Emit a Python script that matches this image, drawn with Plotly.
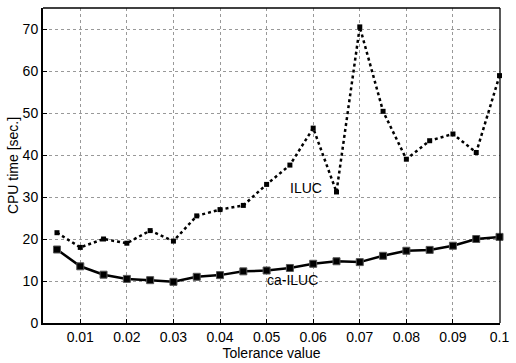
import plotly.graph_objects as go

tolerance = [0.005, 0.01, 0.015, 0.02, 0.025, 0.03, 0.035, 0.04, 0.045, 0.05,
             0.055, 0.06, 0.065, 0.07, 0.075, 0.08, 0.085, 0.09, 0.095, 0.1]
iluc = [21.5, 18.0, 20.0, 19.0, 22.0, 19.5, 25.5, 27.0, 28.0, 33.0,
        37.6, 46.4, 31.2, 70.5, 50.4, 39.0, 43.4, 45.0, 40.6, 58.9]
ca_iluc = [17.5, 13.5, 11.5, 10.5, 10.2, 9.8, 11.0, 11.4, 12.3, 12.5,
           13.1, 14.1, 14.7, 14.5, 16.0, 17.2, 17.4, 18.4, 20.0, 20.5]
x_ticks = [0.01, 0.02, 0.03, 0.04, 0.05, 0.06, 0.07, 0.08, 0.09, 0.1]
x_tick_labels = ["0.01", "0.02", "0.03", "0.04", "0.05", "0.06", "0.07", "0.08", "0.09", "0.1"]
y_ticks = [0, 10, 20, 30, 40, 50, 60, 70]

FONT = "Liberation Sans, Arial, Helvetica, sans-serif"

fig = go.Figure()
fig.add_trace(go.Scatter(
    x=tolerance, y=iluc, mode="lines+markers", name="ILUC",
    line=dict(color="black", width=2.5, dash="dot"),
    marker=dict(symbol="square", size=5, color="black"),
    showlegend=False, cliponaxis=False,
))
fig.add_trace(go.Scatter(
    x=tolerance, y=ca_iluc, mode="lines+markers", name="ca-ILUC",
    line=dict(color="black", width=2.5),
    marker=dict(symbol="square", size=7, color="black",
                line=dict(color="#555555", width=1)),
    showlegend=False, cliponaxis=False,
))

fig.add_annotation(x=0.0585, y=32.2, text="ILUC", showarrow=False,
                   font=dict(family=FONT, size=14, color="black"))
fig.add_annotation(x=0.0555, y=10.2, text="ca-ILUC", showarrow=False,
                   font=dict(family=FONT, size=14, color="black"))

# box top/right thinner lines
fig.add_shape(type="line", xref="paper", yref="paper", x0=0, x1=1, y0=1, y1=1,
              line=dict(color="black", width=1.3))
fig.add_shape(type="line", xref="paper", yref="paper", x0=1, x1=1, y0=0, y1=1,
              line=dict(color="black", width=1.3))

fig.update_layout(
    width=516, height=363,
    margin=dict(l=43, r=7, t=8, b=32),
    paper_bgcolor="white", plot_bgcolor="white",
    font=dict(family=FONT, size=14, color="black"),
)
fig.update_xaxes(
    range=[0.002, 0.1001], tickvals=x_ticks, ticktext=x_tick_labels,
    showgrid=True, gridcolor="#999999", griddash="dot", gridwidth=1,
    showline=True, linecolor="black", linewidth=2,
    ticks="inside", ticklen=4, tickcolor="black",
    zeroline=False, ticklabeloverflow="allow",
    title=dict(text="Tolerance value", standoff=1, font=dict(size=14)),
    tickfont=dict(size=14),
)
fig.update_yaxes(
    range=[0, 75], tickvals=y_ticks,
    showgrid=True, gridcolor="#999999", griddash="dot", gridwidth=1,
    showline=True, linecolor="black", linewidth=2,
    ticks="inside", ticklen=4, tickcolor="black",
    zeroline=False,
    title=dict(text="CPU time [sec.]", standoff=1, font=dict(size=14)),
    tickfont=dict(size=14),
)

fig.write_html("out.html", config={"displayModeBar": False},
               post_script="document.body.style.margin='0';document.body.style.overflow='hidden';")
